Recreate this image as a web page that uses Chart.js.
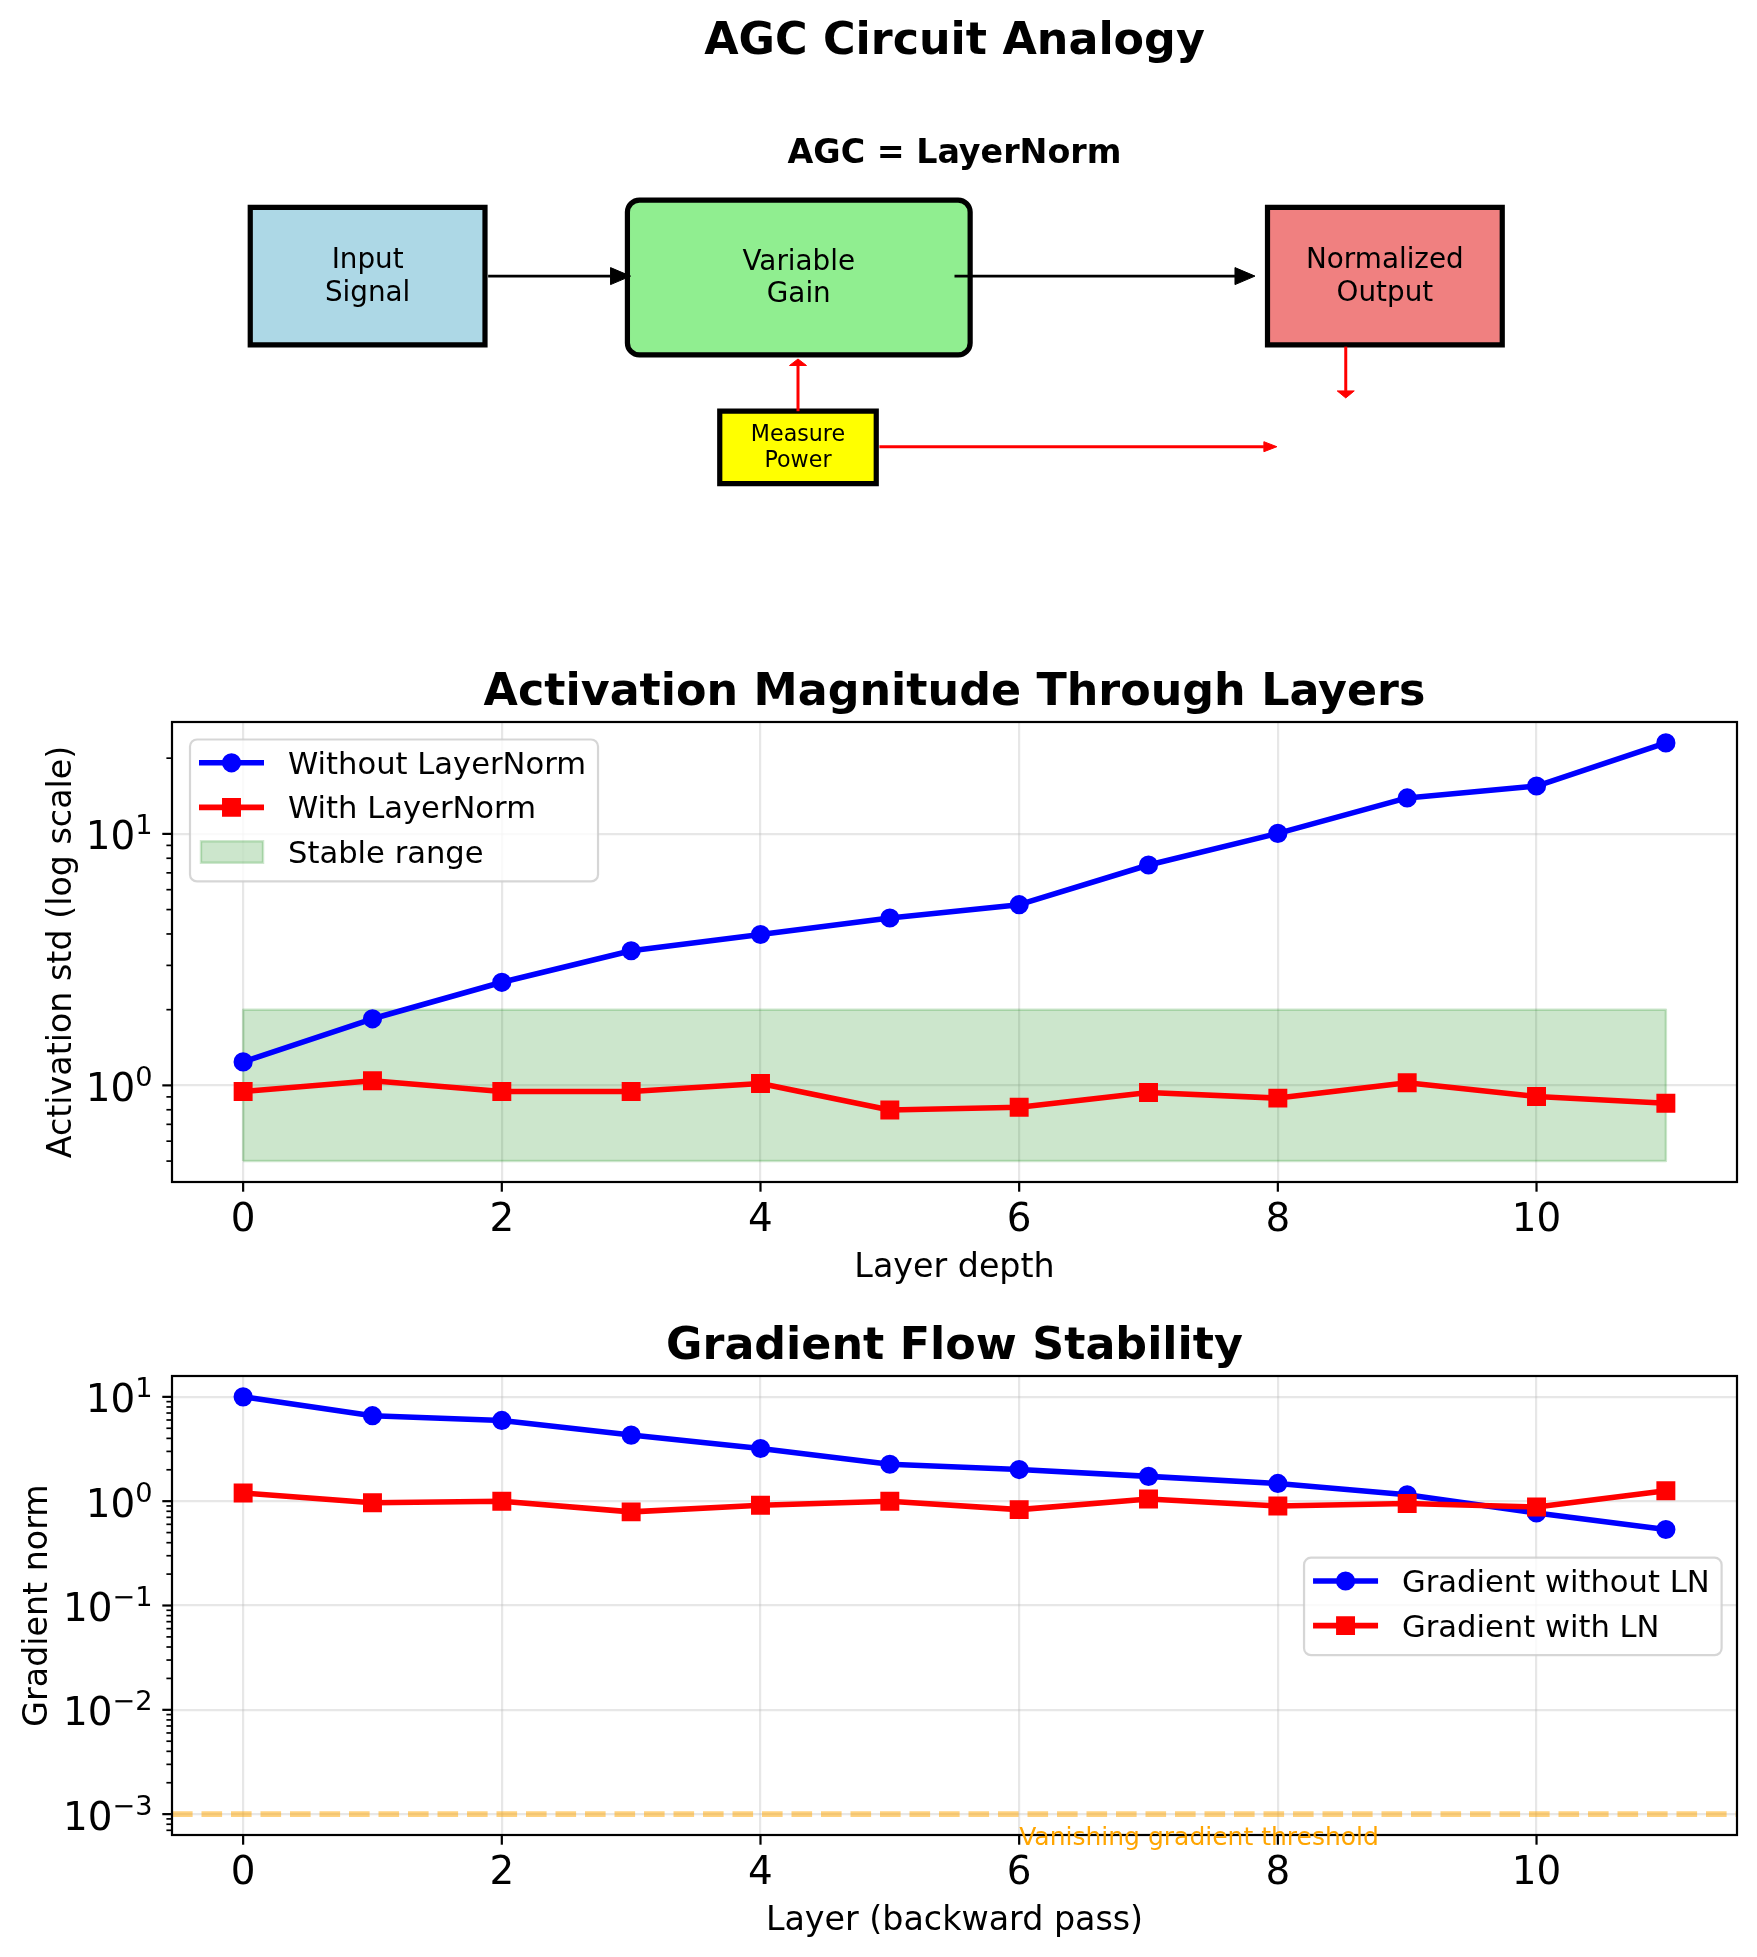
<!DOCTYPE html>
<html>
<head>
<meta charset="utf-8">
<script src="https://cdn.jsdelivr.net/npm/chart.js@4.4.1/dist/chart.umd.min.js"></script>
<style>
  body { margin: 0; background: #fff; }
  #fig { position: relative; width: 1757px; height: 1957px; background: #fff; }
  #fig canvas { position: absolute; left: 0; }
</style>
</head>
<body>
<div id="fig">
  <canvas id="agc" width="1757" height="560" style="top:0px"></canvas>
  <canvas id="act" width="1757" height="760" style="top:560px"></canvas>
  <canvas id="grad" width="1757" height="637" style="top:1320px"></canvas>
</div>
<script>
// values
const layers = [0, 1, 2, 3, 4, 5, 6, 7, 8, 9, 10, 11];
const actWithoutLN = [1.24, 1.84, 2.57, 3.43, 3.98, 4.63, 5.23, 7.52, 10.05, 13.9, 15.5, 23.0];
const actWithLN = [0.946, 1.044, 0.946, 0.946, 1.018, 0.798, 0.818, 0.937, 0.89, 1.025, 0.903, 0.849];
const stableRange = [0.5, 2.0];
const gradWithoutLN = [10.0, 6.6, 5.94, 4.3, 3.2, 2.26, 2.01, 1.73, 1.48, 1.15, 0.77, 0.535];
const gradWithLN = [1.2, 0.966, 1.0, 0.79, 0.914, 1.0, 0.83, 1.05, 0.90, 0.95, 0.88, 1.26];
const vanishThreshold = 1e-3;
const xTickValues = [0, 2, 4, 6, 8, 10];
const actDecades = [1, 10];
const gradDecades = [1e-3, 1e-2, 1e-1, 1, 10];

const FONT = '"DejaVu Sans", "Liberation Sans", sans-serif';
const PT = 200 / 72;
const GRID = 'rgba(176,176,176,0.3)';
const font = (pt, bold) => (bold ? 'bold ' : '') + (pt * PT).toFixed(1) + 'px ' + FONT;

// matplotlib style autoscale margins
const xLimits = [layers[0] - 0.05 * (layers[layers.length - 1] - layers[0]),
                 layers[layers.length - 1] + 0.05 * (layers[layers.length - 1] - layers[0])];
function logLimits(values) {
  const lo = Math.log10(Math.min(...values)), hi = Math.log10(Math.max(...values));
  const m = (hi - lo) * 0.05;
  return [Math.pow(10, lo - m), Math.pow(10, hi + m)];
}
const pts = (xs, ys) => xs.map((x, i) => ({ x: x, y: ys[i] }));

function minorTicks(min, max) {
  const out = [];
  for (let e = Math.floor(Math.log10(min)); e <= Math.ceil(Math.log10(max)); e++) {
    for (let k = 2; k <= 9; k++) {
      const v = k * Math.pow(10, e);
      if (v >= min && v <= max) out.push(v);
    }
  }
  return out;
}

function seg(ctx, x0, y0, x1, y1, lw) {
  ctx.lineWidth = lw;
  ctx.beginPath(); ctx.moveTo(x0, y0); ctx.lineTo(x1, y1); ctx.stroke();
}

function drawMarker(ctx, style, r, bw, x, y, color) {
  ctx.fillStyle = color; ctx.strokeStyle = color; ctx.lineWidth = bw;
  ctx.beginPath();
  if (style === 'rect') {
    const s = r * Math.SQRT1_2;
    ctx.rect(x - s, y - s, 2 * s, 2 * s);
  } else {
    ctx.arc(x, y, r, 0, Math.PI * 2);
  }
  ctx.fill(); ctx.stroke();
}

function drawPow10(ctx, exp, right, baseline) {
  const sup = exp < 0 ? '\u2212' + (-exp) : String(exp);
  ctx.font = font(14 * 0.7);
  const sw = ctx.measureText(sup).width;
  ctx.font = font(14);
  const bw = ctx.measureText('10').width;
  ctx.textAlign = 'left';
  ctx.fillText('10', right - sw - bw, baseline);
  ctx.font = font(14 * 0.7);
  ctx.fillText(sup, right - sw, baseline - 15);
}

// axes decoration in the matplotlib look: frame, ticks, labels, legend
function axesDecor(spec) {
  return {
    id: 'axesDecor',
    afterDraw(chart) {
      const ctx = chart.ctx, area = chart.chartArea;
      const xs = chart.scales.x, ys = chart.scales.y;
      const cx = (area.left + area.right) / 2;
      ctx.save();
      ctx.strokeStyle = '#000';
      ctx.fillStyle = '#000';
      ctx.lineWidth = 2.2;
      ctx.strokeRect(area.left, area.top, area.right - area.left, area.bottom - area.top);

      ctx.font = font(14);
      ctx.textAlign = 'center';
      ctx.textBaseline = 'alphabetic';
      xTickValues.forEach(v => {
        const px = xs.getPixelForValue(v);
        seg(ctx, px, area.bottom, px, area.bottom + 9.7, 2.2);
        ctx.font = font(14); ctx.textAlign = 'center';
        ctx.fillText(String(v), px, area.bottom + 48.5);
      });
      spec.majors.forEach(v => {
        const py = ys.getPixelForValue(v);
        seg(ctx, area.left - 9.7, py, area.left, py, 2.2);
        drawPow10(ctx, Math.round(Math.log10(v)), area.left - 19.4, py + 15.5);
      });
      minorTicks(ys.min, ys.max).forEach(v => {
        const py = ys.getPixelForValue(v);
        seg(ctx, area.left - 5.6, py, area.left, py, 1.7);
      });

      ctx.textAlign = 'center';
      ctx.font = font(16, true);
      ctx.fillText(spec.title, cx, area.top - 17);
      ctx.font = font(12);
      ctx.fillText(spec.xLabel, cx, area.bottom + 95);
      ctx.save();
      ctx.translate(spec.yLabelX, (area.top + area.bottom) / 2);
      ctx.rotate(-Math.PI / 2);
      ctx.fillText(spec.yLabel, 0, 0);
      ctx.restore();

      if (spec.note) {
        ctx.font = font(spec.note.size);
        ctx.fillStyle = spec.note.color;
        ctx.textAlign = 'left';
        ctx.fillText(spec.note.text, xs.getPixelForValue(spec.note.x), ys.getPixelForValue(spec.note.y) + spec.note.dy);
      }

      const lg = spec.legend;
      if (lg) {
        const sets = lg.items.map(i => chart.data.datasets[i]);
        ctx.font = font(11);
        const maxW = Math.max(...sets.map(d => ctx.measureText(d.label).width));
        const w = 98 + maxW + 12;
        const h = 8.7 + 44.4 * sets.length;
        const left = lg.anchor === 'right' ? area.right - lg.dx - w : area.left + lg.dx;
        const top = area.top + lg.dy;
        ctx.beginPath();
        ctx.roundRect(left, top, w, h, 7);
        ctx.fillStyle = 'rgba(255,255,255,0.8)';
        ctx.fill();
        ctx.strokeStyle = 'rgba(204,204,204,0.8)';
        ctx.lineWidth = 2.2;
        ctx.stroke();
        sets.forEach((d, i) => {
          const ry = top + 23.3 + 44.6 * i;
          if (d.fill === 'shape') {
            ctx.fillStyle = d.backgroundColor;
            ctx.strokeStyle = d.borderColor;
            ctx.lineWidth = d.borderWidth;
            ctx.fillRect(left + 11, ry - 10.7, 62, 21.4);
            ctx.strokeRect(left + 11, ry - 10.7, 62, 21.4);
          } else {
            ctx.strokeStyle = d.borderColor;
            seg(ctx, left + 9, ry, left + 74, ry, d.borderWidth);
            drawMarker(ctx, d.pointStyle, d.pointRadius, d.pointBorderWidth, left + 41.5, ry, d.borderColor);
          }
          ctx.fillStyle = '#000';
          ctx.font = font(11);
          ctx.textAlign = 'left';
          ctx.fillText(d.label, left + 98, ry + 11);
        });
      }
      ctx.restore();
    }
  };
}

function axesOptions(yLimits, decades, pad) {
  const hidden = { display: false };
  return {
    responsive: false,
    animation: false,
    devicePixelRatio: 1,
    layout: { padding: pad },
    plugins: { legend: hidden, tooltip: { enabled: false }, title: hidden },
    elements: { line: { tension: 0, borderCapStyle: 'butt', borderJoinStyle: 'round' } },
    scales: {
      x: {
        type: 'linear', min: xLimits[0], max: xLimits[1], bounds: 'data',
        afterBuildTicks: s => { s.ticks = xTickValues.map(v => ({ value: v })); },
        ticks: hidden, border: hidden,
        grid: { color: GRID, lineWidth: 2.2, drawTicks: false }
      },
      y: {
        type: 'logarithmic', min: yLimits[0], max: yLimits[1], bounds: 'data',
        afterBuildTicks: s => { s.ticks = decades.map(v => ({ value: v, major: true })); },
        ticks: hidden, border: hidden,
        grid: { color: GRID, lineWidth: 2.2, drawTicks: false }
      }
    }
  };
}

function lineSet(label, ys, color, style, radius, order) {
  return {
    label: label, data: pts(layers, ys),
    borderColor: color, backgroundColor: color, borderWidth: 5.56,
    pointStyle: style, pointRadius: radius, pointBorderWidth: 2.4,
    pointBackgroundColor: color, pointBorderColor: color,
    fill: false, order: order
  };
}

// Activation chart
const x0 = layers[0], x1 = layers[layers.length - 1];
new Chart(document.getElementById('act'), {
  type: 'line',
  data: {
    datasets: [
      lineSet('Without LayerNorm', actWithoutLN, '#0000ff', 'circle', 8.4, 1),
      lineSet('With LayerNorm', actWithLN, '#ff0000', 'rect', 11.7, 0),
      {
        label: 'Stable range',
        data: [{ x: x0, y: stableRange[0] }, { x: x0, y: stableRange[1] }, { x: x1, y: stableRange[1] },
               { x: x1, y: stableRange[0] }, { x: x0, y: stableRange[0] }],
        fill: 'shape', backgroundColor: 'rgba(0,128,0,0.2)', borderColor: 'rgba(0,128,0,0.2)',
        borderWidth: 2.5, pointRadius: 0, order: 2
      }
    ]
  },
  options: axesOptions(logLimits([...actWithoutLN, ...actWithLN, ...stableRange]), actDecades,
                       { left: 172, right: 20, top: 162, bottom: 138 }),
  plugins: [axesDecor({
    title: 'Activation Magnitude Through Layers',
    xLabel: 'Layer depth',
    yLabel: 'Activation std (log scale)',
    yLabelX: 71,
    majors: actDecades,
    legend: { anchor: 'left', dx: 18, dy: 17.5, items: [0, 1, 2] }
  })]
});

// Gradient chart
new Chart(document.getElementById('grad'), {
  type: 'line',
  data: {
    datasets: [
      lineSet('Gradient without LN', gradWithoutLN, '#0000ff', 'circle', 8.4, 1),
      lineSet('Gradient with LN', gradWithLN, '#ff0000', 'rect', 11.7, 0),
      {
        label: 'threshold',
        data: [{ x: xLimits[0], y: vanishThreshold }, { x: xLimits[1], y: vanishThreshold }],
        borderColor: 'rgba(255,165,0,0.5)', borderWidth: 5.56, borderDash: [20.6, 8.9],
        pointRadius: 0, fill: false, order: 3
      }
    ]
  },
  options: axesOptions(logLimits([...gradWithoutLN, ...gradWithLN, vanishThreshold]), gradDecades,
                       { left: 172, right: 20, top: 56, bottom: 122 }),
  plugins: [axesDecor({
    title: 'Gradient Flow Stability',
    xLabel: 'Layer (backward pass)',
    yLabel: 'Gradient norm',
    yLabelX: 47,
    majors: gradDecades,
    legend: { anchor: 'right', dx: 15.4, dy: 181.7, items: [0, 1] },
    note: { text: 'Vanishing gradient threshold', x: 6, y: vanishThreshold, dy: 31, color: '#ffa500', size: 9 }
  })]
});

// AGC block diagram, laid out on hidden 0..10 axes
const diagramBlocks = [
  { lines: ['Input', 'Signal'], x: [0.5, 2.0], y: [4.0, 7.0], fill: '#add8e6', size: 10 },
  { lines: ['Variable', 'Gain'], x: [2.91, 5.1], y: [3.78, 7.16], fill: '#90ee90', size: 10, round: 12 },
  { lines: ['Normalized', 'Output'], x: [7.0, 8.5], y: [4.0, 7.0], fill: '#f08080', size: 10 },
  { lines: ['Measure', 'Power'], x: [3.5, 4.5], y: [0.97, 2.55], fill: '#ffff00', size: 8 }
];
const diagramArrows = [
  { from: [2.02, 5.5], to: [2.93, 5.5], color: '#000000', lw: 2.8, head: [20, 8.5] },
  { from: [5.0, 5.5], to: [6.92, 5.5], color: '#000000', lw: 2.8, head: [20, 8.5] },
  { from: [4.0, 2.55], to: [4.0, 3.69], color: '#ff0000', lw: 3, head: [6.5, 8.5] },
  { from: [7.5, 3.96], to: [7.5, 2.84], color: '#ff0000', lw: 3, head: [7, 8.5] },
  { from: [4.52, 1.775], to: [7.06, 1.775], color: '#ff0000', lw: 3, head: [13, 5] }
];

const diagramPlugin = {
  id: 'agcDiagram',
  afterDraw(chart) {
    const ctx = chart.ctx, area = chart.chartArea;
    const X = v => chart.scales.x.getPixelForValue(v);
    const Y = v => chart.scales.y.getPixelForValue(v);
    ctx.save();
    ctx.fillStyle = '#000';
    ctx.textAlign = 'center';
    ctx.font = font(16, true);
    ctx.fillText('AGC Circuit Analogy', (area.left + area.right) / 2, area.top - 16);
    ctx.font = font(12, true);
    ctx.fillText('AGC = LayerNorm', X(5), Y(7.96));

    diagramBlocks.forEach(b => {
      const l = X(b.x[0]), r = X(b.x[1]), t = Y(b.y[1]), bt = Y(b.y[0]);
      ctx.beginPath();
      if (b.round) ctx.roundRect(l, t, r - l, bt - t, b.round);
      else ctx.rect(l, t, r - l, bt - t);
      ctx.fillStyle = b.fill;
      ctx.fill();
      ctx.strokeStyle = '#000';
      ctx.lineWidth = 5.2;
      ctx.stroke();
    });

    diagramArrows.forEach(a => {
      const sx = X(a.from[0]), sy = Y(a.from[1]), tx = X(a.to[0]), ty = Y(a.to[1]);
      const len = Math.hypot(tx - sx, ty - sy);
      const ux = (tx - sx) / len, uy = (ty - sy) / len;
      const bx = tx - ux * a.head[0], by = ty - uy * a.head[0];
      ctx.strokeStyle = a.color;
      ctx.fillStyle = a.color;
      seg(ctx, sx, sy, bx, by, a.lw);
      ctx.beginPath();
      ctx.moveTo(tx, ty);
      ctx.lineTo(bx - uy * a.head[1], by + ux * a.head[1]);
      ctx.lineTo(bx + uy * a.head[1], by - ux * a.head[1]);
      ctx.closePath();
      ctx.lineWidth = 1;
      ctx.fill();
      ctx.stroke();
    });

    diagramBlocks.forEach(b => {
      const f = b.size * PT;
      const cx = (X(b.x[0]) + X(b.x[1])) / 2;
      const cy = (Y(b.y[0]) + Y(b.y[1])) / 2;
      ctx.font = font(b.size);
      ctx.fillStyle = '#000';
      ctx.textAlign = 'center';
      const base = cy - 0.277 * f;
      b.lines.forEach((s, i) => ctx.fillText(s, cx, base + i * 1.166 * f));
    });
    ctx.restore();
  }
};

new Chart(document.getElementById('agc'), {
  type: 'scatter',
  data: { datasets: [] },
  options: {
    responsive: false,
    animation: false,
    devicePixelRatio: 1,
    layout: { padding: { left: 172, right: 20, top: 70, bottom: 32 } },
    plugins: { legend: { display: false }, tooltip: { enabled: false } },
    scales: {
      x: { type: 'linear', min: 0, max: 10, display: false },
      y: { type: 'linear', min: 0, max: 10, display: false }
    }
  },
  plugins: [diagramPlugin]
});
</script>
</body>
</html>
